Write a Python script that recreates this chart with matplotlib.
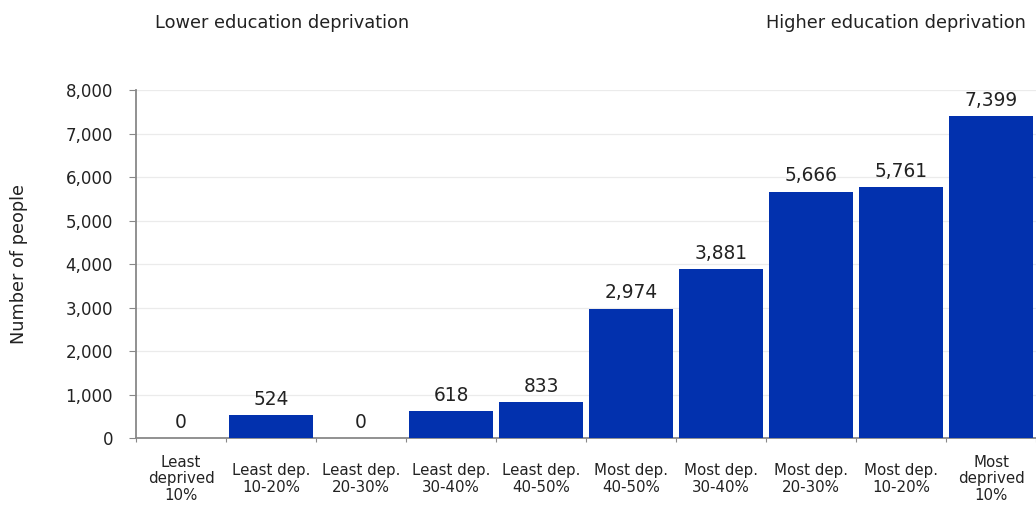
import matplotlib
matplotlib.use("Agg")
import matplotlib.pyplot as plt

categories = [
    "Least\ndeprived\n10%", "Least dep.\n10-20%", "Least dep.\n20-30%",
    "Least dep.\n30-40%", "Least dep.\n40-50%", "Most dep.\n40-50%",
    "Most dep.\n30-40%", "Most dep.\n20-30%", "Most dep.\n10-20%",
    "Most\ndeprived\n10%",
]
people = [0, 524, 0, 618, 833, 2974, 3881, 5666, 5761, 7399]
y_ticks = [0, 1000, 2000, 3000, 4000, 5000, 6000, 7000, 8000]

bar_color = "#0231AE"
text_color = "#222222"

plt.rcParams["font.family"] = ["DejaVu Sans"]

fig = plt.figure(figsize=(10.36, 5.08), dpi=100)
ax = fig.add_axes([0.1313, 0.1378, 0.8687, 0.685])

x = list(range(len(categories)))
ax.bar(x, people, width=0.94, color=bar_color, zorder=3)

ax.set_xlim(-0.5, len(categories) - 0.5)
ax.set_ylim(0, 8000)
ax.set_yticks(y_ticks)
ax.set_yticklabels([f"{v:,}" for v in y_ticks], fontsize=12, color=text_color)

# boundary ticks on the major locator, category names on the minor one
ax.set_xticks([i - 0.5 for i in x] + [len(categories) - 0.5])
ax.set_xticklabels([])
ax.set_xticks(x, minor=True)
ax.set_xticklabels(categories, minor=True, fontsize=10.8, color=text_color,
                   linespacing=1.12)
for lbl in ax.get_xticklabels(minor=True):
    lbl.set_verticalalignment("center")
ax.tick_params(axis="x", which="minor", length=0, pad=29.5)
ax.tick_params(axis="x", which="major", length=3, color="#888888")
ax.tick_params(axis="y", length=5, color="#888888", pad=11.5)

ax.grid(axis="y", color="#ebebeb", linewidth=0.9, zorder=0)
for side in ("top", "right"):
    ax.spines[side].set_visible(False)
for side in ("left", "bottom"):
    ax.spines[side].set_color("#888888")
    ax.spines[side].set_linewidth(1.3)

for xi, v in zip(x, people):
    ax.annotate(f"{v:,}", (xi, v), xytext=(0, 4.5), textcoords="offset points",
                ha="center", va="bottom", fontsize=13.4, color=text_color)

ax.set_ylabel("Number of people", fontsize=12.8, color=text_color)
ax.yaxis.set_label_coords(-0.12, 0.5)

fig.text(0.1495, 0.955, "Lower education deprivation", fontsize=12.8,
         color=text_color, ha="left", va="center")
fig.text(0.99, 0.955, "Higher education deprivation", fontsize=12.8,
         color=text_color, ha="right", va="center")

fig.savefig("out.png", dpi=100)
